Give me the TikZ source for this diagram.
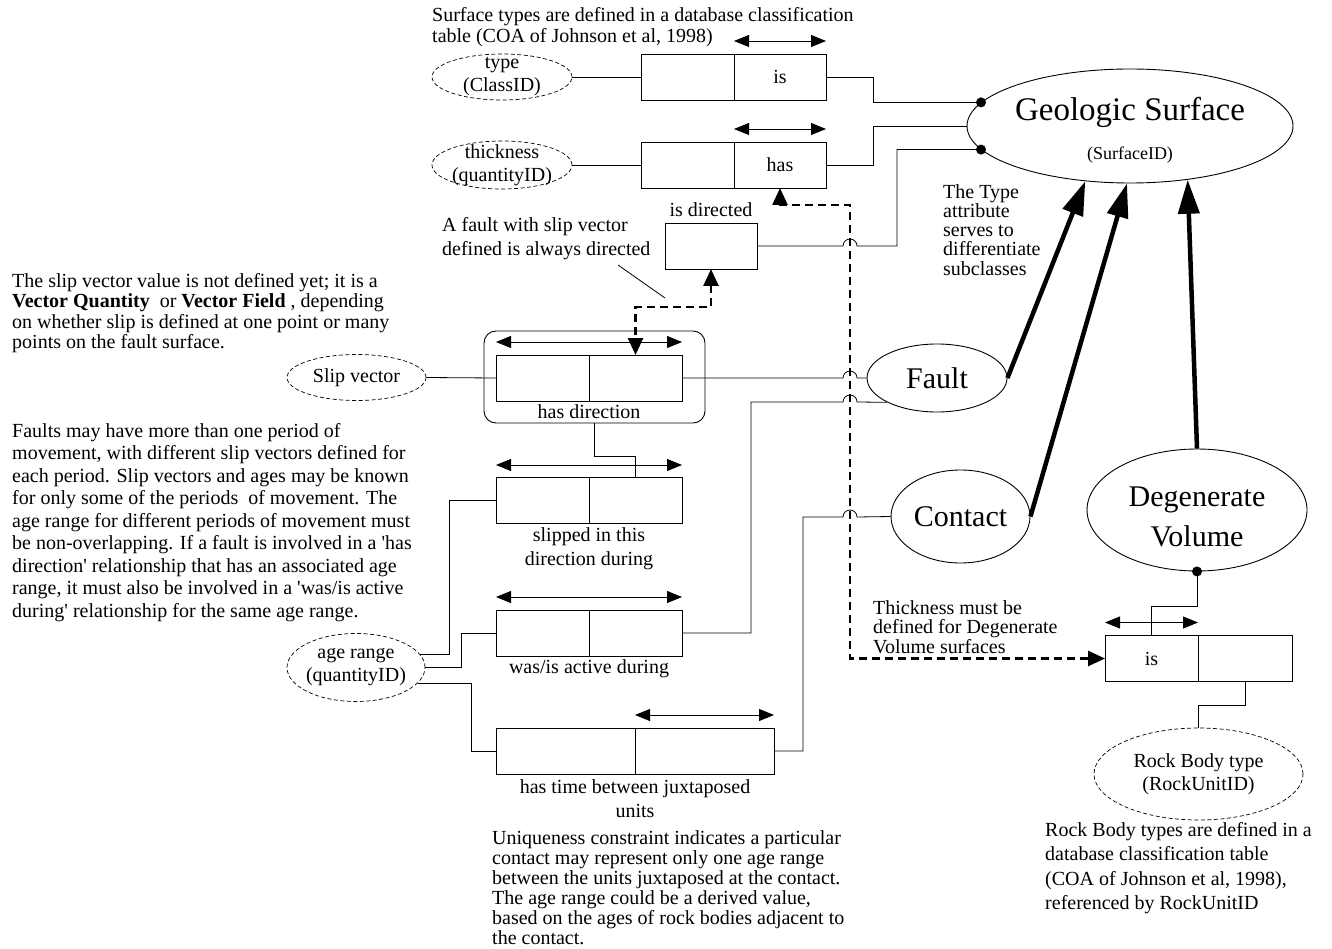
\documentclass[tikz,border=0pt]{standalone}
\usepackage{fontspec}
\setmainfont{Liberation Serif}[Ligatures=TeXOff]
\usetikzlibrary{arrows.meta,shapes.geometric,calc}

\begin{document}
\begin{tikzpicture}[x=1pt,y=-1pt,
  cell/.style={draw, line width=0.8pt, minimum height=46pt, inner sep=0pt, outer sep=0pt,
    font=\fontsize{20}{24}\selectfont},
  attrib/.style={ellipse, draw, line width=0.7pt, dash pattern=on 4pt off 2.5pt, inner sep=0pt},
  entity/.style={ellipse, draw, line width=0.9pt, inner sep=0pt},
  etext/.style={inner sep=0pt, align=center, font=\fontsize{30}{40}\selectfont},
  atext/.style={inner sep=0pt, align=center, font=\fontsize{20}{23}\selectfont},
  link/.style={line width=0.8pt},
  uniq/.style={line width=0.9pt, {Triangle[length=15pt,width=12pt]}-{Triangle[length=15pt,width=12pt]}},
  dlink/.style={line width=2.6pt, dash pattern=on 8pt off 5pt,
    {Triangle[length=17pt,width=15pt]}-{Triangle[length=17pt,width=15pt]}},
  subtype/.style={line width=4.5pt, -{Triangle[length=34pt,width=21pt]}},
  note/.style={inner sep=0pt, anchor=north west, align=left},
  lbl/.style={inner sep=0pt, align=center, font=\fontsize{20}{24}\selectfont},
  dot/.style={circle, fill, inner sep=0pt, minimum size=10pt},
]
\useasboundingbox (0,0) rectangle (1332,949);

% ---------- entity types ----------
\node[entity, minimum width=326pt, minimum height=114pt] (gs) at (1130,126) {};
\node[etext, font=\fontsize{33}{36}\selectfont] (gst) at (1130,112) {Geologic Surface};
\node[atext, font=\fontsize{18}{20}\selectfont] (gsid) at (1130,155) {(SurfaceID)};

\node[entity, minimum width=140pt, minimum height=68pt] (fault) at (937,378) {};
\node[etext] (faultt) at (fault.center) {Fault};

\node[entity, minimum width=139pt, minimum height=93pt] (ct) at (960.5,516.5) {};
\node[etext] (ctt) at (ct.center) {Contact};

\node[entity, minimum width=220pt, minimum height=122pt] (dv) at (1197,510) {};
\node[etext] (dvt) at (1197,517) {Degenerate\\Volume};

% ---------- value types (dashed) ----------
\node[attrib, minimum width=140pt, minimum height=46pt] (typ) at (502,77) {};
\node[atext] (typt) at (typ.center) {type\\(ClassID)};
\node[attrib, minimum width=140pt, minimum height=48pt] (thk) at (502,165) {};
\node[atext] (thkt) at (thk.center) {thickness\\(quantityID)};
\node[attrib, minimum width=139pt, minimum height=46pt] (sv) at (356.5,377.5) {};
\node[atext] (svt) at (sv.center) {Slip vector};
\node[attrib, minimum width=138pt, minimum height=68pt] (ar) at (356,667.5) {};
\node[atext] (art) at (ar.center) {age range\\(quantityID)};
\node[attrib, minimum width=209pt, minimum height=92pt] (rb) at (1198.5,774) {};
\node[atext] (rbt) at (rb.center) {Rock Body type\\(RockUnitID)};

% ---------- fact types ----------
\node[cell, minimum width=93pt] (isL) at (687.5,77) {};
\node[cell, minimum width=92pt] (isR) at (780,77) {is};
\node[cell, minimum width=93pt] (hasL) at (687.5,165) {};
\node[cell, minimum width=92pt] (hasR) at (780,165) {has};
\node[cell, minimum width=92pt] (isd) at (711,246) {};
\node[lbl, anchor=south] (isdt) at ([yshift=6pt]isd.north) {is directed};

\node[draw, line width=0.9pt, rounded corners=12pt, minimum width=221pt, minimum height=92pt] (hdbox) at (594.5,377) {};
\node[cell, minimum width=93pt] (hdL) at (542.5,378) {};
\node[cell, minimum width=93pt] (hdR) at (635.5,378) {};
\node[lbl] (hdt) at (589,412) {has direction};

\node[cell, minimum width=93pt] (slL) at (542.5,500) {};
\node[cell, minimum width=93pt] (slR) at (635.5,500) {};
\node[lbl] (slt) at (589,549) {slipped in this\\direction during};

\node[cell, minimum width=93pt] (waL) at (542.5,633) {};
\node[cell, minimum width=93pt] (waR) at (635.5,633) {};
\node[lbl] (wat) at (589,669) {was/is active during};

\node[cell, minimum width=139pt] (htL) at (565.5,751) {};
\node[cell, minimum width=139pt] (htR) at (704.5,751) {};
\node[lbl] (htt) at (635,799) {has time between juxtaposed\\units};

\node[cell, minimum width=93pt] (dIsL) at (1151.5,658.5) {is};
\node[cell, minimum width=94pt] (dIsR) at (1245,658.5) {};

% ---------- uniqueness constraints ----------
\draw[uniq] ([yshift=13pt]isR.north west) -- ([yshift=13pt]isR.north east);
\draw[uniq] ([yshift=13pt]hasR.north west) -- ([yshift=13pt]hasR.north east);
\draw[uniq] ([yshift=13pt]hdL.north west) -- ([yshift=13pt]hdR.north east);
\draw[uniq] ([yshift=12pt]slL.north west) -- ([yshift=12pt]slR.north east);
\draw[uniq] ([yshift=13pt]waL.north west) -- ([yshift=13pt]waR.north east);
\draw[uniq] ([yshift=13pt]htR.north west) -- ([yshift=13pt]htR.north east);
\draw[uniq] ([yshift=13pt]dIsL.north west) -- ([yshift=13pt]dIsL.north east);

% ---------- mandatory role dots ----------
\node[dot] (d1) at (gs.171) {};
\node[dot] (d2) at (gs.189) {};
\node[dot] (d3) at (dv.south) {};

% ---------- role connectors ----------
\draw[link] (typ.east) -- (isL.west);
\draw[link] (thk.east) -- (hasL.west);
\draw[link] (isR.east) -- ++(47,0) |- (d1.center);
\draw[link] (hasR.east) -- ++(47,0) |- (gs.west);
\draw[link] (isd.east) -- (843,246) arc[start angle=180, end angle=0, radius=7pt] -- (897,246) |- (d2.center);
\draw[link] (sv.east) -- (hdL.west);
\draw[link] (hdR.east) -- (843,378) arc[start angle=180, end angle=0, radius=7pt] -- (fault.west);
\draw[link] (hdbox.south) -- ++(0,33) -| (slR.north);
\draw[link] (ar.12) -- ++(30,0) |- (slL.west);
\draw[link] (ar.east) -- ++(36,0) |- (waL.west);
\draw[link] (ar.346) -- ++(53,0) |- (htL.west);
\draw[link] (waR.east) -- (751,633) -- (751,402) -- (843,402) arc[start angle=180, end angle=0, radius=7pt] -- (fault.206);
\draw[link] (htR.east) -- (803,751) -- (803,517) -- (843,517) arc[start angle=180, end angle=0, radius=7pt] -- (ct.west);
\draw[link] (d3.center) -- ++(0,35) -| (dIsL.north);
\draw[link] (dIsR.south) -- ++(0,24) -| (rb.north);

% ---------- subset / equality constraints ----------
\draw[dlink] (hasR.south) |- (850,205) |- (dIsL.west);
\draw[dlink] (isd.south) -- ++(0,38) -| (hdR.north);

% ---------- subtype arrows ----------
\draw[subtype] (fault.east) -- (gs.231);
\draw[subtype] (ct.east) -- (gs.267);
\draw[subtype] (dv.north) -- (gs.317);

% ---------- notes ----------
\node[note, font=\fontsize{20}{21}\selectfont] (n1) at (432,7)
  {Surface types are defined in a database classification\\table (COA of Johnson et al, 1998)};
\node[note, font=\fontsize{20}{20.5}\selectfont] (n2) at (12,273)
  {The slip vector value is not defined yet; it is a\\
   \textbf{Vector Quantity}\ \ or \textbf{Vector Field}\ , depending\\
   on whether slip is defined at one point or many\\
   points on the fault surface.};
\node[note, font=\fontsize{20}{22.5}\selectfont] (n3) at (12,423)
  {Faults may have more than one period of\\
   movement, with different slip vectors defined for\\
   each period. Slip vectors and ages may be known\\
   for only some of the periods\ \ of movement. The\\
   age range for different periods of movement must\\
   be non-overlapping. If a fault is involved in a 'has\\
   direction' relationship that has an associated age\\
   range, it must also be involved in a 'was/is active\\
   during' relationship for the same age range.};
\node[note, font=\fontsize{20}{24.5}\selectfont] (n4) at (442,217)
  {A fault with slip vector\\defined is always directed};
\coordinate (p1) at (618,265);
\coordinate (p2) at (665,298);
\draw[link] (p1) -- (p2);
\node[note, font=\fontsize{20}{19.3}\selectfont] (n5) at (943,184)
  {The Type\\attribute\\serves to\\differentiate\\subclasses};
\node[note, font=\fontsize{20}{19.5}\selectfont] (n6) at (873,600)
  {Thickness must be\\defined for Degenerate\\Volume surfaces};
\node[note, font=\fontsize{20}{20}\selectfont] (n7) at (492,830)
  {Uniqueness constraint indicates a particular\\
   contact may represent only one age range\\
   between the units juxtaposed at the contact.\\
   The age range could be a derived value,\\
   based on the ages of rock bodies adjacent to\\
   the contact.};
\node[note, font=\fontsize{20}{24.5}\selectfont] (n8) at (1045,822)
  {Rock Body types are defined in a\\
   database classification table\\
   (COA of Johnson et al, 1998),\\
   referenced by RockUnitID};
\end{tikzpicture}
\end{document}
